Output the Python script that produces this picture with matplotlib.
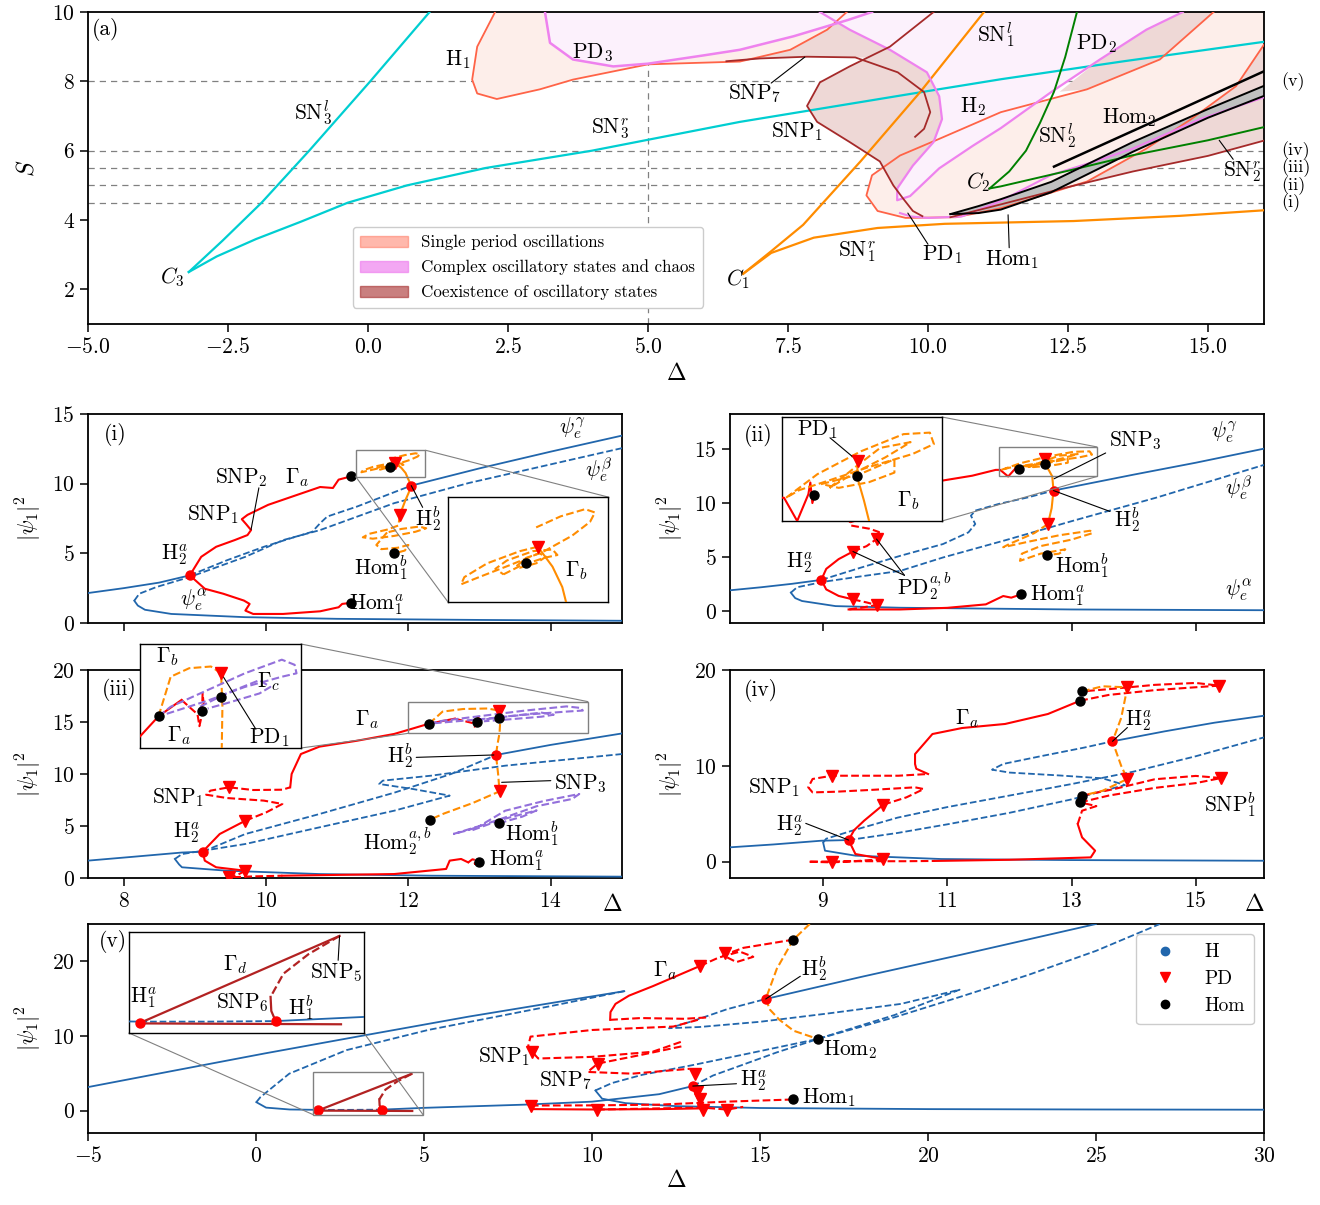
import matplotlib
matplotlib.use('Agg')
import matplotlib.pyplot as plt
from matplotlib.patches import Patch, Rectangle, ConnectionPatch
from matplotlib.lines import Line2D

plt.rcParams.update({
    'font.family': 'serif',
    'font.serif': ['cmr10'],
    'mathtext.fontset': 'cm',
    'axes.formatter.use_mathtext': True,
    'font.size': 15.5,
    'axes.linewidth': 1.3,
    'xtick.major.width': 1.1,
    'ytick.major.width': 1.1,
})

W, H = 1320, 1205
BLUE = '#2166ac'
ORANGE = 'darkorange'
PURPLE = 'mediumpurple'
DRED = 'firebrick'
FS = 15.5

# ---------------- panel (a): two-parameter bifurcation set ----------------
SN3L_X = [-3.2, -2.6, -1.9, -1.05, 0.04, 1.1]
SN3L_Y = [2.5, 3.4, 4.5, 6.0, 8.0, 10.0]
SN3R_X = [-3.2, -2.7, -2.0, -1.2, -0.36, 0.7, 2.1, 4.0, 6.64, 10.0, 11.3, 13.5, 16.0]
SN3R_Y = [2.5, 2.95, 3.45, 3.95, 4.5, 5.0, 5.5, 6.0, 6.83, 7.72, 8.06, 8.58, 9.14]
SN1L_X = [6.7, 7.2, 7.77, 8.8, 9.86, 11.0]
SN1L_Y = [2.45, 3.1, 3.86, 5.7, 7.69, 10.0]
SN1R_X = [6.7, 7.2, 7.96, 9.1, 10.3, 12.6, 14.5, 16.0]
SN1R_Y = [2.45, 3.05, 3.49, 3.77, 3.89, 3.97, 4.12, 4.28]
H1_X = [2.27, 1.95, 1.86, 1.95, 2.3, 3.07, 3.66, 5.0, 6.64, 7.54, 8.2, 8.55]
H1_Y = [10.0, 9.0, 8.05, 7.65, 7.49, 7.77, 8.05, 8.49, 8.57, 8.91, 9.49, 10.0]
PD3_X = [3.16, 3.25, 3.66, 4.38, 5.0, 6.0, 6.64, 7.6, 8.57, 9.0]
PD3_Y = [10.0, 9.11, 8.63, 8.43, 8.51, 8.75, 8.91, 9.3, 9.77, 10.0]
VA_X = [8.07, 8.6, 9.32, 9.98, 10.2, 10.25, 10.1, 9.73, 9.45, 9.45, 9.68, 10.2, 10.8,
        11.3, 12.2, 13.07, 13.9, 14.55]
VA_Y = [10.0, 9.49, 8.91, 8.26, 7.57, 6.91, 6.25, 5.57, 4.91, 4.57, 4.69, 5.49, 6.14,
        6.65, 7.69, 8.63, 9.49, 10.0]
VC_X = [9.5, 9.7, 10.0, 10.6, 11.3, 12.2, 13.0, 13.66, 14.86, 16.0]
VC_Y = [4.2, 4.1, 4.06, 4.1, 4.55, 5.3, 5.7, 6.06, 6.91, 7.54]
H2_X = [15.1, 14.14, 12.84, 11.3, 10.2, 9.5, 9.0, 8.9, 9.1, 9.6, 10.5, 11.3, 12.84,
        13.9, 14.7, 15.5, 16.0]
H2_Y = [10.0, 8.63, 7.77, 7.11, 6.34, 5.86, 5.29, 4.71, 4.26, 4.06, 4.08, 4.34, 5.11,
        6.06, 6.91, 7.86, 9.06]
SNP1_X = [10.1, 9.32, 8.6, 8.07, 7.84, 8.02, 8.6, 9.14, 9.38, 9.55, 9.73, 9.9]
SNP1_Y = [10.0, 9.0, 8.43, 7.97, 7.29, 6.83, 6.25, 5.69, 5.0, 4.63, 4.26, 4.11]
SNP7_X = [6.4, 7.0, 7.84, 8.7, 9.46, 9.93, 10.04, 9.93, 9.77]
SNP7_Y = [8.58, 8.66, 8.71, 8.69, 8.26, 7.69, 7.11, 6.63, 6.4]
DB_X = [10.4, 11.3, 12.5, 13.66, 15.0, 16.0]
DB_Y = [4.08, 4.45, 4.95, 5.4, 5.85, 6.29]
HOM1U_X = [10.4, 10.9, 11.3, 12.2, 13.66, 15.0, 16.0]
HOM1U_Y = [4.17, 4.4, 4.6, 5.1, 6.25, 7.2, 7.87]
HOM1L_X = [10.4, 10.9, 11.3, 12.2, 13.66, 15.0, 16.0]
HOM1L_Y = [4.17, 4.2, 4.3, 4.8, 5.97, 6.95, 7.58]
HOM2_X = [12.25, 14.0, 16.0]
HOM2_Y = [5.54, 6.82, 8.29]
SN2L_X = [11.1, 11.45, 11.75, 12.0, 12.25, 12.45, 12.66]
SN2L_Y = [4.91, 5.4, 6.0, 6.8, 7.7, 8.7, 10.0]
SN2R_X = [11.1, 11.3, 12.5, 13.66, 15.0, 16.0]
SN2R_Y = [4.91, 4.97, 5.42, 5.87, 6.3, 6.68]
S_CUTS = [8.0, 6.0, 5.5, 5.0, 4.5]
S_CUT_NAMES = ['(v)', '(iv)', '(iii)', '(ii)', '(i)']

# ---------------- panel (i) ----------------
I_EQ_LEFT_X = [7.5, 8.0, 8.5, 8.93]
I_EQ_LEFT_Y = [2.15, 2.5, 2.9, 3.42]
I_EQ_LOW_X = [8.15, 8.2, 8.3, 8.67, 9.7, 11.0, 13.0, 15.0]
I_EQ_LOW_Y = [1.6, 1.25, 0.95, 0.65, 0.42, 0.3, 0.22, 0.16]
I_EQ_B_X = [8.15, 8.22, 8.46, 8.93, 9.71, 10.24, 10.76, 11.8, 12.85, 15.0]
I_EQ_B_Y = [1.6, 2.1, 2.58, 3.3, 4.75, 5.95, 6.67, 8.6, 10.05, 12.55]
I_EQ_A_X = [8.93, 9.45, 9.97, 10.34, 10.65, 10.76, 10.86, 11.28, 12.04]
I_EQ_A_Y = [3.42, 4.5, 5.47, 6.07, 6.55, 7.16, 7.64, 8.36, 9.86]
I_EQ_TOP_X = [12.04, 13.0, 14.0, 15.0]
I_EQ_TOP_Y = [9.86, 11.1, 12.3, 13.45]
I_GA_UP_X = [8.93, 9.09, 9.3, 9.56, 9.74, 9.79, 9.72, 9.66, 9.74, 10.03, 10.44, 10.76,
             10.94, 11.02, 11.2]
I_GA_UP_Y = [3.42, 4.75, 5.47, 5.95, 6.31, 6.67, 7.1, 7.45, 7.76, 8.48, 9.2, 9.76,
             9.69, 10.29, 10.53]
I_GA_LO_X = [8.93, 9.14, 9.4, 9.69, 9.77, 9.71, 9.82, 10.24, 10.76, 11.02, 11.07, 11.2]
I_GA_LO_Y = [3.42, 2.46, 2.1, 1.61, 1.37, 0.89, 0.65, 0.65, 0.84, 1.13, 1.37, 1.45]
I_GB_X = [11.81, 11.9, 11.96, 12.0, 12.04, 12.0, 11.96, 11.88]
I_GB_Y = [11.5, 11.14, 10.77, 10.3, 9.86, 9.3, 8.84, 7.76]
I_L1_X = [11.81, 11.7, 11.5, 11.36, 11.34, 11.45, 11.65, 11.85, 12.02, 12.13, 12.16,
          12.1, 11.95, 11.8]
I_L1_Y = [11.5, 11.42, 11.2, 10.95, 10.82, 10.95, 11.18, 11.42, 11.7, 11.95, 12.12,
          12.18, 12.05, 11.85]
I_L2_X = [11.6, 11.7, 11.85, 11.93, 11.9, 11.78, 11.62, 11.55, 11.6]
I_L2_Y = [11.0, 11.15, 11.3, 11.35, 11.45, 11.42, 11.25, 11.1, 11.0]
I_L3_X = [11.68, 11.74, 11.82, 11.86, 11.8, 11.7, 11.68]
I_L3_Y = [11.15, 11.3, 11.38, 11.32, 11.2, 11.12, 11.15]
I_L4_X = [11.88, 11.86, 11.7, 11.45, 11.36, 11.5, 11.8, 12.1, 12.25, 12.15, 11.9, 11.7]
I_L4_Y = [7.76, 7.0, 6.7, 6.4, 6.15, 6.05, 6.25, 6.55, 6.8, 6.92, 6.75, 6.5]
I_L5_X = [11.7, 11.55, 11.62, 11.85, 12.0, 11.95, 11.8]
I_L5_Y = [6.5, 5.6, 5.3, 5.4, 5.6, 5.2, 4.99]
I_H_X, I_H_Y = [8.93, 12.04], [3.42, 9.86]
I_PD_X, I_PD_Y = [11.81, 11.88], [11.5, 7.76]
I_HOM_X, I_HOM_Y = [11.2, 11.2, 11.74, 11.8], [10.53, 1.45, 11.21, 4.99]

# ---------------- panel (ii) ----------------
II_EQ_LEFT_X = [7.5, 8.0, 8.5, 8.97]
II_EQ_LEFT_Y = [1.92, 2.2, 2.52, 2.88]
II_EQ_LOW_X = [8.48, 8.55, 8.66, 9.2, 10.24, 13.0, 16.1]
II_EQ_LOW_Y = [1.7, 1.2, 0.93, 0.46, 0.31, 0.15, 0.08]
II_EQ_B_X = [8.48, 8.58, 9.0, 9.6, 10.24, 10.93, 11.97, 13.0, 14.38, 16.1]
II_EQ_B_Y = [1.7, 2.2, 2.7, 3.2, 3.71, 4.95, 6.6, 8.3, 10.5, 13.5]
II_EQ_A_X = [8.97, 9.6, 10.24, 10.93, 11.34, 11.45, 11.38, 11.45, 11.83, 12.3, 12.71]
II_EQ_A_Y = [2.88, 4.0, 5.1, 6.19, 7.27, 8.04, 8.81, 9.28, 9.9, 10.5, 11.13]
II_EQ_TOP_X = [12.71, 14.0, 15.0, 16.1]
II_EQ_TOP_Y = [11.13, 12.6, 13.7, 15.0]
II_GA_UP_X = [8.97, 9.05, 9.25, 9.48]
II_GA_UP_Y = [2.88, 3.9, 4.8, 5.5]
II_GA_UPD_X = [9.48, 9.7, 9.86, 9.9, 9.75, 9.45, 9.43, 9.55]
II_GA_UPD_Y = [5.5, 6.0, 6.65, 7.3, 7.6, 7.9, 8.2, 8.4]
II_GA_TOP_X = [10.5, 10.93, 11.4, 11.78, 11.85, 11.98, 12.09, 12.11, 12.13, 12.15]
II_GA_TOP_Y = [11.8, 12.06, 12.5, 13.04, 13.04, 12.43, 13.13, 13.44, 12.9, 13.1]
II_GA_LO_X = [8.97, 9.05, 9.25, 9.48]
II_GA_LO_Y = [2.88, 2.0, 1.4, 1.08]
II_GA_LOD_X = [9.48, 9.7, 9.86, 9.6, 9.41]
II_GA_LOD_Y = [1.08, 0.8, 0.56, 0.3, 0.15]
II_GA_BOT_X = [9.41, 10.24, 11.0, 11.62, 11.9, 12.03, 12.19]
II_GA_BOT_Y = [0.15, 0.15, 0.3, 0.62, 1.39, 1.24, 1.55]
II_GB_X = [12.58, 12.57, 12.64, 12.69, 12.71, 12.68, 12.62]
II_GB_Y = [14.01, 13.61, 12.96, 12.43, 11.13, 9.5, 8.04]
II_GB_LEFT_X = [9.55, 9.8, 9.83, 9.85]
II_GB_LEFT_Y = [8.4, 8.6, 9.5, 11.0]
II_U1_X = [11.87, 12.18, 12.61, 13.03, 13.29, 13.33, 13.12, 12.68, 12.3, 12.0, 11.87]
II_U1_Y = [13.04, 13.66, 14.26, 14.71, 14.75, 14.45, 14.19, 13.84, 13.5, 13.24, 13.04]
II_U2_X = [12.22, 12.6, 12.94, 12.94, 12.69, 12.39, 12.22]
II_U2_Y = [13.4, 13.66, 14.05, 13.7, 13.45, 13.3, 13.4]
II_U3_X = [12.3, 12.58, 12.8, 13.1, 12.85, 12.55, 12.3]
II_U3_Y = [13.3, 13.9, 14.35, 14.5, 14.1, 13.7, 13.3]
II_LOW_X = [12.62, 12.4, 12.0, 11.9, 12.3, 12.8, 13.3, 13.34, 13.0, 12.5, 12.2, 12.17,
            12.5, 12.9, 12.8, 12.6]
II_LOW_Y = [8.04, 7.2, 6.2, 5.9, 6.4, 7.0, 7.42, 7.2, 6.6, 6.0, 5.3, 4.64, 5.3, 5.7,
            5.3, 5.17]
II_H_X, II_H_Y = [8.97, 12.71], [2.88, 11.13]
II_PD_X = [9.48, 9.86, 9.48, 9.86, 12.58, 12.62]
II_PD_Y = [5.5, 6.65, 1.08, 0.56, 14.01, 8.04]
II_HOM_X, II_HOM_Y = [12.19, 12.6, 12.15, 12.57], [1.55, 5.17, 13.1, 13.61]

# ---------------- panel (iii) ----------------
III_EQ_LEFT_X = [7.5, 8.15, 8.82, 9.11]
III_EQ_LEFT_Y = [1.67, 2.05, 2.45, 2.53]
III_EQ_LOW_X = [8.72, 8.78, 8.82, 9.45, 10.75, 12.32, 15.0]
III_EQ_LOW_Y = [1.83, 1.3, 1.03, 0.7, 0.38, 0.22, 0.13]
III_EQ_B_X = [8.72, 8.82, 9.71, 10.75, 11.8, 12.58, 12.06, 11.59, 11.64, 12.32, 13.36, 15.0]
III_EQ_B_Y = [1.83, 2.3, 3.27, 4.87, 6.47, 7.92, 8.56, 9.04, 9.36, 9.84, 10.8, 11.92]
III_EQ_A_X = [9.11, 9.71, 10.75, 11.8, 12.6, 13.23]
III_EQ_A_Y = [2.53, 4.23, 6.15, 8.2, 10.0, 11.83]
III_EQ_TOP_X = [13.23, 14.0, 15.0]
III_EQ_TOP_Y = [11.83, 12.8, 13.9]
III_GA_UP_X = [9.11, 9.35, 9.71]
III_GA_UP_Y = [2.53, 4.23, 5.51]
III_GA_UPD_X = [9.71, 10.0, 10.23, 9.97, 9.45, 9.16, 9.22, 9.48, 9.82, 10.23, 10.34]
III_GA_UPD_Y = [5.51, 6.3, 7.12, 7.44, 7.69, 8.01, 8.4, 8.72, 8.46, 8.49, 8.72]
III_GA_TOP_X = [10.34, 10.36, 10.49, 10.75, 11.28, 11.8, 12.0, 12.29, 12.65]
III_GA_TOP_Y = [8.72, 10.0, 11.92, 12.63, 13.2, 13.85, 14.25, 14.84, 15.32]
III_GA_ZIG_X = [12.65, 12.75, 12.9, 12.93, 13.0, 12.98, 12.97]
III_GA_ZIG_Y = [15.32, 15.15, 14.9, 14.55, 15.15, 15.5, 15.0]
III_GA_LO_X = [9.11, 9.14, 9.3, 9.71]
III_GA_LO_Y = [2.53, 1.67, 1.03, 0.7]
III_GA_LOD_X = [9.71, 9.6, 9.48, 9.8, 10.23]
III_GA_LOD_Y = [0.7, 0.3, 0.06, 0.15, 0.22]
III_GA_BOT_X = [10.23, 11.8, 12.53, 12.58, 12.74, 12.84]
III_GA_BOT_Y = [0.22, 0.38, 0.87, 1.67, 1.83, 1.5]
III_GA_BOTD_X = [12.84, 12.9, 13.0, 12.9, 12.99]
III_GA_BOTD_Y = [1.5, 1.8, 1.6, 1.3, 1.51]
III_GB_X = [12.29, 12.48, 12.77, 13.11, 13.27, 13.29, 13.28, 13.25, 13.23, 13.26, 13.28,
            12.9, 12.5, 12.3]
III_GB_Y = [14.84, 16.0, 16.25, 16.3, 16.1, 15.12, 13.94, 12.8, 11.83, 10.0, 8.33,
            7.2, 6.2, 5.6]
III_P1_X = [12.29, 12.48, 13.06, 13.64, 14.22, 14.42, 14.45, 14.22, 13.64, 13.06, 12.48, 12.29]
III_P1_Y = [14.84, 15.12, 15.61, 16.1, 16.5, 16.35, 16.1, 16.0, 15.7, 15.3, 14.95, 14.84]
III_P2_X = [12.94, 13.35, 13.87, 14.04, 13.87, 13.35, 13.06]
III_P2_Y = [15.12, 15.51, 15.9, 15.7, 15.51, 15.22, 15.07]
III_P3_X = [12.63, 13.0, 13.36, 13.9, 14.4, 14.3, 13.8, 13.36, 12.84, 12.63]
III_P3_Y = [4.23, 5.0, 6.47, 7.4, 8.08, 7.6, 6.9, 5.83, 4.6, 4.23]
III_P4_X = [12.9, 13.3, 13.8, 13.6, 13.27]
III_P4_Y = [4.6, 5.6, 6.5, 5.9, 5.26]
III_H_X, III_H_Y = [9.11, 13.23], [2.53, 11.83]
III_PD_X = [9.71, 9.48, 9.71, 9.48, 13.27, 13.28]
III_PD_Y = [5.51, 8.72, 0.7, 0.06, 16.1, 8.33]
III_HOM_X = [12.29, 12.97, 13.27, 12.3, 13.27, 12.99]
III_HOM_Y = [14.84, 15.0, 15.4, 5.6, 5.26, 1.51]

# ---------------- panel (iv) ----------------
IV_EQ_LEFT_X = [7.5, 8.2, 8.97, 9.41]
IV_EQ_LEFT_Y = [1.5, 1.8, 2.19, 2.26]
IV_EQ_LOW_X = [9.0, 9.03, 9.52, 10.9, 12.97, 16.1]
IV_EQ_LOW_Y = [2.0, 1.15, 0.63, 0.28, 0.17, 0.1]
IV_EQ_B_X = [9.0, 9.05, 9.5, 10.2, 11.0, 12.0, 13.0, 14.0, 15.0, 16.1]
IV_EQ_B_Y = [2.0, 2.4, 3.3, 4.6, 5.7, 6.9, 8.1, 9.4, 11.0, 12.97]
IV_EQ_A_X = [9.41, 10.2, 11.0, 12.0, 13.0, 13.86, 13.5, 12.8, 12.0, 11.72, 11.9, 12.5,
             13.2, 13.66]
IV_EQ_A_Y = [2.26, 3.0, 3.9, 5.1, 6.5, 8.0, 8.7, 9.0, 9.3, 9.6, 10.2, 11.0, 11.9, 12.56]
IV_EQ_TOP_X = [13.66, 14.5, 15.3, 16.1]
IV_EQ_TOP_Y = [12.56, 13.6, 14.5, 15.23]
IV_GA_UP_X = [9.41, 9.5, 9.66, 9.97]
IV_GA_UP_Y = [2.26, 3.3, 4.28, 5.95]
IV_GA_UPD_X = [9.97, 10.34, 10.62, 10.48, 9.8, 9.2, 8.83, 8.76, 8.83, 9.14, 10.21, 10.69]
IV_GA_UPD_Y = [5.95, 6.71, 7.58, 7.76, 7.5, 7.3, 7.23, 7.76, 8.63, 8.97, 8.97, 9.15]
IV_GA_TOP_X = [10.69, 10.5, 10.48, 10.48, 10.76, 11.24, 11.93, 12.62, 13.14]
IV_GA_TOP_Y = [9.15, 9.7, 10.19, 11.23, 13.32, 13.95, 14.37, 15.41, 16.8]
IV_R1_X = [13.14, 13.6, 14.34, 15.0, 15.38, 15.0, 14.34, 13.6, 13.17]
IV_R1_Y = [16.8, 17.4, 17.9, 18.2, 18.37, 18.65, 18.45, 18.0, 17.77]
IV_GA_LO_X = [9.41, 9.52, 9.97]
IV_GA_LO_Y = [2.26, 0.8, 0.28]
IV_GA_LOD_X = [9.97, 9.5, 9.14, 8.76, 9.5, 10.3, 10.8]
IV_GA_LOD_Y = [0.28, 0.05, -0.07, 0.0, 0.05, 0.05, 0.08]
IV_GA_BOT_X = [10.8, 12.0, 13.31, 13.38, 13.17, 13.1]
IV_GA_BOT_Y = [0.08, 0.2, 0.45, 1.15, 2.54, 3.93]
IV_GA_BOTD_X = [13.1, 13.17, 13.4, 13.14]
IV_GA_BOTD_Y = [3.93, 5.32, 5.8, 6.19]
IV_R2_X = [13.14, 13.6, 14.34, 15.0, 15.41, 15.0, 14.34, 13.7, 13.17]
IV_R2_Y = [6.19, 6.9, 7.7, 8.2, 8.73, 8.95, 8.6, 7.6, 6.89]
IV_GB_X = [13.17, 13.5, 13.9, 13.8, 13.66, 13.8, 13.9, 13.5, 13.17]
IV_GB_Y = [17.77, 18.3, 18.19, 15.0, 12.56, 10.0, 8.63, 7.4, 6.89]
IV_H_X, IV_H_Y = [9.41, 13.66], [2.26, 12.56]
IV_PD_X = [9.97, 9.14, 9.97, 9.14, 13.9, 15.38, 13.9, 15.41]
IV_PD_Y = [5.95, 8.97, 0.28, -0.07, 18.19, 18.37, 8.63, 8.73]
IV_HOM_X, IV_HOM_Y = [13.14, 13.17, 13.14, 13.17], [16.8, 17.77, 6.19, 6.89]

# ---------------- panel (v) ----------------
V_S1_X = [-5.0, -2.5, 0.26, 3.0, 6.34, 9.0, 10.96]
V_S1_Y = [3.15, 5.3, 7.66, 9.9, 12.6, 14.57, 16.0]
V_D1_X = [10.96, 8.77, 5.12, 2.69, 0.99, 0.13, 0.01]
V_D1_Y = [16.0, 14.0, 10.8, 8.1, 4.95, 1.8, 1.13]
V_S2A_X = [0.01, 0.3, 1.0, 1.86]
V_S2A_Y = [1.13, 0.4, 0.15, 0.1]
V_S2D_X = [1.86, 2.8, 3.74]
V_S2D_Y = [0.1, 0.1, 0.13]
V_S2B_X = [3.74, 5.0, 8.0, 10.0, 12.0, 13.0]
V_S2B_Y = [0.13, 0.37, 0.8, 1.2, 2.2, 3.29]
V_S3_X = [10.1, 10.3, 11.0, 12.5, 15.0, 20.0, 25.0, 30.0]
V_S3_Y = [2.7, 1.6, 1.0, 0.6, 0.35, 0.2, 0.15, 0.12]
V_D2_X = [10.1, 10.6, 11.5, 13.0, 14.5, 16.72, 19.0, 21.0, 23.0, 25.0, 26.9]
V_D2_Y = [2.7, 3.7, 4.8, 6.1, 7.5, 9.6, 12.5, 15.3, 18.2, 21.4, 25.0]
V_D3_X = [13.0, 13.6, 14.4, 15.5, 17.0, 19.0, 20.94, 19.2, 17.0, 15.0, 13.2, 12.29,
          13.0, 14.03, 15.17]
V_D3_Y = [3.29, 4.7, 6.0, 7.8, 10.0, 12.8, 16.2, 14.3, 13.0, 11.9, 11.2, 11.04,
          12.0, 13.6, 14.95]
V_TOP_X = [15.17, 18.0, 21.0, 25.0]
V_TOP_Y = [14.95, 17.9, 20.9, 25.0]
V_GA_X = [10.54, 10.55, 10.7, 11.1, 11.81, 12.5, 13.21]
V_GA_Y = [12.16, 13.2, 14.3, 15.4, 16.67, 18.0, 19.37]
V_GA_D_X = [13.21, 13.77, 14.4, 14.8, 14.3, 13.9, 14.5, 15.99]
V_GA_D_Y = [19.37, 20.5, 21.3, 20.6, 19.9, 20.8, 21.8, 22.9]
V_GA_D2_X = [10.54, 11.45, 12.74, 13.5]
V_GA_D2_Y = [12.16, 12.4, 12.3, 12.5]
V_SNP1_X = [13.15, 12.42, 10.0, 8.17, 8.1, 8.22, 8.4, 10.0, 11.8, 12.66]
V_SNP1_Y = [12.16, 11.26, 10.8, 9.91, 8.6, 7.88, 6.98, 7.2, 7.88, 9.23]
V_SNP7_X = [12.66, 11.5, 10.17, 9.87, 11.2, 12.9]
V_SNP7_Y = [8.6, 7.5, 6.3, 5.18, 4.95, 5.6]
V_H2A_X = [13.0, 13.1, 13.2, 13.3, 13.3]
V_H2A_Y = [3.29, 2.4, 1.6, 0.8, 0.14]
V_LO1_X = [8.2, 10.0, 12.0, 13.3]
V_LO1_Y = [0.2, 0.15, 0.2, 0.3]
V_LO2_X = [8.18, 10.0, 12.0, 14.0, 15.99]
V_LO2_Y = [0.68, 0.7, 0.8, 1.2, 1.49]
V_LO3_X = [10.15, 12.0, 13.3, 14.02, 14.5]
V_LO3_Y = [0.14, 0.3, 0.4, 0.14, 0.5]
V_GB_X = [16.48, 15.99, 15.5, 15.17, 15.3, 15.58, 16.0, 16.72]
V_GB_Y = [25.0, 22.9, 19.0, 14.95, 13.5, 12.16, 10.7, 9.6]
V_GD_X = [1.86, 4.63]
V_GD_Y = [0.04, 4.92]
V_GD_D_X = [4.63, 4.2, 3.85, 3.67]
V_GD_D_Y = [4.92, 3.9, 2.8, 1.49]
V_GD_S_X = [3.67, 3.68, 3.74]
V_GD_S_Y = [1.49, 0.7, 0.13]
V_GD_FLAT_X = [1.86, 4.65]
V_GD_FLAT_Y = [0.0, -0.05]
V_H_X, V_H_Y = [1.86, 3.74, 13.0, 15.17], [0.04, 0.13, 3.29, 14.95]
V_PD_X = [13.21, 13.97, 8.22, 10.17, 8.18, 10.15, 13.3, 14.02, 13.13, 13.2, 13.06]
V_PD_Y = [19.37, 21.17, 7.88, 6.3, 0.68, 0.14, 0.14, 0.14, 2.43, 1.6, 4.95]
V_HOM_X, V_HOM_Y = [15.99, 16.72, 15.99], [22.9, 9.6, 1.49]


def axes_px(fig, left, top, right, bottom, **kw):
    return fig.add_axes([left / W, 1 - bottom / H, (right - left) / W, (bottom - top) / H], **kw)


def ln(ax, x, y, c, ls='-', lw=1.5, z=3):
    ax.plot(x, y, color=c, ls=ls, lw=lw, zorder=z)


def marks(ax, hx, hy, px, py, bx, by):
    ax.plot(hx, hy, 'o', color='red', ms=6.5, zorder=7, ls='')
    ax.plot(px, py, 'v', color='red', ms=8, zorder=7, ls='')
    ax.plot(bx, by, 'o', color='k', ms=6.5, zorder=7, ls='')


def tag(ax, s, x, y, ha='center', va='center', fs=FS, **kw):
    ax.text(x, y, s, ha=ha, va=va, fontsize=fs, zorder=9, **kw)


def pointer(ax, x0, y0, x1, y1, coords='data'):
    ax.annotate('', xy=(x1, y1), xytext=(x0, y0), xycoords='data', textcoords=coords,
                arrowprops=dict(arrowstyle='-', lw=0.8, color='k', shrinkA=0, shrinkB=0),
                zorder=9)


def make_inset(fig, ax, box, xl, yl, corners):
    ins = axes_px(fig, *box)
    ins.set_zorder(ax.get_zorder() + 1)
    ins.set_xlim(*xl)
    ins.set_ylim(*yl)
    ins.set_xticks([])
    ins.set_yticks([])
    for s in ins.spines.values():
        s.set_linewidth(1.0)
    ax.add_patch(Rectangle((xl[0], yl[0]), xl[1] - xl[0], yl[1] - yl[0], fill=False,
                           ec='gray', lw=1.0, zorder=8))
    for (px, py), (ux, uy) in corners:
        fig.add_artist(ConnectionPatch(xyA=(px, py), coordsA=ax.transData,
                                       xyB=(ux, uy), coordsB=ins.transAxes,
                                       color='gray', lw=0.8))
    return ins


def style(ax):
    ax.tick_params(direction='out', length=6, labelsize=FS)


fig = plt.figure(figsize=(W / 100, H / 100), dpi=100)

# ====================== (a) ======================
ax = axes_px(fig, 88, 12, 1264, 324)
style(ax)
ax.set_xlim(-5, 16)
ax.set_ylim(1, 10)
ax.set_xticks([-5, -2.5, 0, 2.5, 5, 7.5, 10, 12.5, 15])
ax.set_xticklabels(['$-5.0$', '$-2.5$', '$0.0$', '$2.5$', '$5.0$', '$7.5$', '$10.0$', '$12.5$', '$15.0$'])
ax.set_yticks([2, 4, 6, 8, 10])
ax.set_xlabel(r'$\Delta$', fontsize=17, labelpad=4)
ax.set_ylabel(r'$S$', fontsize=17, labelpad=10)

SALMON = dict(color='#fdeeea', lw=0, zorder=1)
PINK = dict(color='#fcf1fc', lw=0, zorder=1.1)
BROWNF = dict(color='#eed8d6', lw=0, zorder=1.2)

ax.fill(H1_X, H1_Y, **SALMON)
ax.fill(H2_X + [16.0], H2_Y + [10.0], **SALMON)
ax.fill(PD3_X, PD3_Y, **PINK)
ax.fill(VA_X, VA_Y, **PINK)
b1x = [8.35] + VA_X[1:9] + SNP1_X[8:1:-1] + [8.95] + SNP7_X[3::-1] + H1_X[8:11]
b1y = [9.72] + VA_Y[1:9] + SNP1_Y[8:1:-1] + [8.68] + SNP7_Y[3::-1] + H1_Y[8:11]
ax.fill(b1x, b1y, **BROWNF)
ax.fill([12.35] + VA_X[15:] + H2_X[0:3], [7.7] + VA_Y[15:] + H2_Y[0:3], **BROWNF)
ax.fill(H2_X[10:] + DB_X[::-1], H2_Y[10:] + DB_Y[::-1], **BROWNF)
ax.fill(HOM1U_X + HOM1L_X[::-1], HOM1U_Y + HOM1L_Y[::-1], color='#c0c0c0', lw=0, zorder=1.3)

for s in S_CUTS:
    ax.axhline(s, color='gray', ls=(0, (5, 4)), lw=0.9, zorder=0.5)
ax.axvline(5, color='gray', ls=(0, (5, 4)), lw=0.9, zorder=0.5)
for s, name in zip(S_CUTS, S_CUT_NAMES):
    ax.text(16.3, s, name, ha='left', va='center', fontsize=13, clip_on=False)

ln(ax, SN3L_X, SN3L_Y, 'darkturquoise', lw=1.6)
ln(ax, SN3R_X, SN3R_Y, 'darkturquoise', lw=1.6)
ln(ax, SN1L_X, SN1L_Y, ORANGE, lw=1.6)
ln(ax, SN1R_X, SN1R_Y, ORANGE, lw=1.6)
ln(ax, H1_X, H1_Y, 'tomato', lw=1.3)
ln(ax, H2_X, H2_Y, 'tomato', lw=1.3)
ln(ax, PD3_X, PD3_Y, 'violet', lw=1.8)
ln(ax, VA_X, VA_Y, 'violet', lw=1.6)
ln(ax, VC_X, VC_Y, 'violet', lw=1.5)
ln(ax, SNP1_X, SNP1_Y, 'brown', lw=1.3)
ln(ax, SNP7_X, SNP7_Y, 'brown', lw=1.3)
ln(ax, DB_X, DB_Y, 'brown', lw=1.3)
ln(ax, SN2L_X, SN2L_Y, 'green', lw=1.4)
ln(ax, SN2R_X, SN2R_Y, 'green', lw=1.4)
ln(ax, HOM1U_X, HOM1U_Y, 'k', lw=1.4)
ln(ax, HOM1L_X, HOM1L_Y, 'k', lw=1.4)
ln(ax, HOM2_X, HOM2_Y, 'k', lw=1.8)

tag(ax, '(a)', -4.93, 9.5, ha='left')
for s, x, y in [('H$_1$', 1.6, 8.63), ('PD$_3$', 4.0, 8.83), ('SN$_3^l$', -0.98, 7.1),
                ('SN$_3^r$', 4.32, 6.63), ('SNP$_7$', 6.9, 7.63), ('SNP$_1$', 7.66, 6.54),
                ('SN$_1^l$', 11.2, 9.34), ('PD$_2$', 13.0, 9.1), ('H$_2$', 10.8, 7.26),
                ('SN$_2^l$', 12.3, 6.43), ('Hom$_2$', 13.6, 6.95), ('$C_2$', 10.9, 5.1),
                ('SN$_2^r$', 15.6, 5.4), ('SN$_1^r$', 8.73, 3.1), ('PD$_1$', 10.25, 3.0),
                ('Hom$_1$', 11.5, 2.86), ('$C_1$', 6.6, 2.29), ('$C_3$', -3.5, 2.34)]:
    tag(ax, s, x, y)
pointer(ax, 7.2, 7.95, 7.8, 8.7)
pointer(ax, 15.45, 5.75, 15.2, 6.3)
pointer(ax, 10.0, 3.3, 9.64, 4.2)
pointer(ax, 11.45, 3.2, 11.43, 4.15)

leg = ax.legend(handles=[Patch(color='tomato', alpha=0.45, label='Single period oscillations'),
                         Patch(color='violet', alpha=0.7, label='Complex oscillatory states and chaos'),
                         Patch(color='brown', alpha=0.6, label='Coexistence of oscillatory states')],
                loc='lower left', bbox_to_anchor=(0.218, 0.025), fontsize=12.2,
                handlelength=2.8, handleheight=0.6, framealpha=1, edgecolor='#cccccc',
                borderpad=0.45, labelspacing=0.55)
leg.set_zorder(10)


# ====================== (i) ======================
def draw_i(a):
    ln(a, I_EQ_LEFT_X, I_EQ_LEFT_Y, BLUE, lw=1.3)
    ln(a, I_EQ_LOW_X, I_EQ_LOW_Y, BLUE, lw=1.3)
    ln(a, I_EQ_B_X, I_EQ_B_Y, BLUE, '--', lw=1.3)
    ln(a, I_EQ_A_X, I_EQ_A_Y, BLUE, '--', lw=1.3)
    ln(a, I_EQ_TOP_X, I_EQ_TOP_Y, BLUE, lw=1.3)
    ln(a, I_GA_UP_X, I_GA_UP_Y, 'red')
    ln(a, I_GA_LO_X, I_GA_LO_Y, 'red')
    ln(a, I_GB_X, I_GB_Y, ORANGE)
    for xs, ys in [(I_L1_X, I_L1_Y), (I_L2_X, I_L2_Y), (I_L3_X, I_L3_Y),
                   (I_L4_X, I_L4_Y), (I_L5_X, I_L5_Y)]:
        ln(a, xs, ys, ORANGE, '--')
    marks(a, I_H_X, I_H_Y, I_PD_X, I_PD_Y, I_HOM_X, I_HOM_Y)


ax1 = axes_px(fig, 88, 414, 622, 623)
style(ax1)
draw_i(ax1)
ax1.set_xlim(7.5, 15)
ax1.set_ylim(0, 15)
ax1.set_xticks([8, 10, 12, 14])
ax1.set_xticklabels([])
ax1.set_yticks([0, 5, 10, 15])
ax1.set_ylabel(r'$|\psi_1|^2$', fontsize=16, labelpad=6)
tag(ax1, '(i)', 7.72, 13.5, ha='left')
tag(ax1, r'$\psi_e^\gamma$', 14.3, 14.0)
tag(ax1, r'$\psi_e^\beta$', 14.68, 11.0)
tag(ax1, r'$\psi_e^\alpha$', 8.99, 1.65)
tag(ax1, 'H$_2^a$', 8.71, 4.9)
tag(ax1, 'SNP$_1$', 9.26, 7.75)
tag(ax1, 'SNP$_2$', 9.65, 10.4)
pointer(ax1, 9.9, 9.7, 9.79, 6.7)
tag(ax1, r'$\Gamma_a$', 10.44, 10.4)
tag(ax1, 'H$_2^b$', 12.28, 7.5)
pointer(ax1, 12.2, 8.3, 12.04, 9.86)
tag(ax1, 'Hom$_1^b$', 11.62, 4.0)
tag(ax1, 'Hom$_1^a$', 11.55, 1.3)
ins1 = make_inset(fig, ax1, (448, 497, 608, 602), (11.26, 12.24), (10.5, 12.4),
                  [((12.24, 12.4), (1, 1)), ((11.26, 10.5), (0, 0))])
draw_i(ins1)
ins1.text(0.8, 0.3, r'$\Gamma_b$', transform=ins1.transAxes, ha='center', va='center', fontsize=FS)


# ====================== (ii) ======================
def draw_ii(a):
    ln(a, II_EQ_LEFT_X, II_EQ_LEFT_Y, BLUE, lw=1.3)
    ln(a, II_EQ_LOW_X, II_EQ_LOW_Y, BLUE, lw=1.3)
    ln(a, II_EQ_B_X, II_EQ_B_Y, BLUE, '--', lw=1.3)
    ln(a, II_EQ_A_X, II_EQ_A_Y, BLUE, '--', lw=1.3)
    ln(a, II_EQ_TOP_X, II_EQ_TOP_Y, BLUE, lw=1.3)
    ln(a, II_GA_UP_X, II_GA_UP_Y, 'red')
    ln(a, II_GA_UPD_X, II_GA_UPD_Y, 'red', '--')
    ln(a, II_GA_TOP_X, II_GA_TOP_Y, 'red')
    ln(a, II_GA_LO_X, II_GA_LO_Y, 'red')
    ln(a, II_GA_LOD_X, II_GA_LOD_Y, 'red', '--')
    ln(a, II_GA_BOT_X, II_GA_BOT_Y, 'red')
    ln(a, II_GB_X, II_GB_Y, ORANGE)
    ln(a, II_GB_LEFT_X, II_GB_LEFT_Y, ORANGE)
    for xs, ys in [(II_U1_X, II_U1_Y), (II_U2_X, II_U2_Y), (II_U3_X, II_U3_Y),
                   (II_LOW_X, II_LOW_Y)]:
        ln(a, xs, ys, ORANGE, '--')
    marks(a, II_H_X, II_H_Y, II_PD_X, II_PD_Y, II_HOM_X, II_HOM_Y)


ax2 = axes_px(fig, 730, 414, 1264, 623)
style(ax2)
draw_ii(ax2)
ax2.set_xlim(7.5, 16.1)
ax2.set_ylim(-1.1, 18.2)
ax2.set_xticks([9, 11, 13, 15])
ax2.set_xticklabels([])
ax2.set_yticks([0, 5, 10, 15])
ax2.set_ylabel(r'$|\psi_1|^2$', fontsize=16, labelpad=6)
tag(ax2, r'$\psi_e^\gamma$', 15.47, 16.5)
tag(ax2, r'$\psi_e^\beta$', 15.7, 11.4)
tag(ax2, r'$\psi_e^\alpha$', 15.7, 1.9)
tag(ax2, 'H$_2^a$', 8.61, 4.5)
tag(ax2, 'PD$_2^{a,b}$', 10.63, 2.3)
pointer(ax2, 10.31, 3.3, 9.48, 5.5)
pointer(ax2, 10.31, 3.3, 9.86, 6.65)
tag(ax2, 'Hom$_1^b$', 12.74, 4.2, ha='left')
tag(ax2, 'Hom$_1^a$', 12.33, 1.4, ha='left')
tag(ax2, 'SNP$_3$', 14.02, 15.7)
pointer(ax2, 13.55, 14.6, 12.72, 12.22)
tag(ax2, 'H$_2^b$', 13.9, 8.5)
pointer(ax2, 13.62, 9.2, 12.71, 11.13)
ins2 = make_inset(fig, ax2, (782, 417, 942, 521), (11.83, 13.41), (12.43, 15.16),
                  [((13.41, 15.16), (1, 1)), ((13.41, 12.43), (1, 0))])
draw_ii(ins2)
tag(ax2, '(ii)', 7.72, 16.2, ha='left')
ins2.text(0.22, 0.88, 'PD$_1$', transform=ins2.transAxes, ha='center', va='center', fontsize=FS)
ins2.annotate('', xy=(12.58, 14.0), xytext=(0.3, 0.8), textcoords=ins2.transAxes,
              arrowprops=dict(arrowstyle='-', lw=0.8, color='k', shrinkA=0, shrinkB=0))
ins2.text(0.79, 0.2, r'$\Gamma_b$', transform=ins2.transAxes, ha='center', va='center', fontsize=FS)


# ====================== (iii) ======================
def draw_iii(a):
    ln(a, III_EQ_LEFT_X, III_EQ_LEFT_Y, BLUE, lw=1.3)
    ln(a, III_EQ_LOW_X, III_EQ_LOW_Y, BLUE, lw=1.3)
    ln(a, III_EQ_B_X, III_EQ_B_Y, BLUE, '--', lw=1.3)
    ln(a, III_EQ_A_X, III_EQ_A_Y, BLUE, '--', lw=1.3)
    ln(a, III_EQ_TOP_X, III_EQ_TOP_Y, BLUE, lw=1.3)
    ln(a, III_GA_UP_X, III_GA_UP_Y, 'red')
    ln(a, III_GA_UPD_X, III_GA_UPD_Y, 'red', '--')
    ln(a, III_GA_TOP_X, III_GA_TOP_Y, 'red')
    ln(a, III_GA_ZIG_X, III_GA_ZIG_Y, 'red', '--')
    ln(a, III_GA_LO_X, III_GA_LO_Y, 'red')
    ln(a, III_GA_LOD_X, III_GA_LOD_Y, 'red', '--')
    ln(a, III_GA_BOT_X, III_GA_BOT_Y, 'red')
    ln(a, III_GA_BOTD_X, III_GA_BOTD_Y, 'red', '--')
    ln(a, III_GB_X, III_GB_Y, ORANGE, '--')
    for xs, ys in [(III_P1_X, III_P1_Y), (III_P2_X, III_P2_Y), (III_P3_X, III_P3_Y),
                   (III_P4_X, III_P4_Y)]:
        ln(a, xs, ys, PURPLE, '--')
    marks(a, III_H_X, III_H_Y, III_PD_X, III_PD_Y, III_HOM_X, III_HOM_Y)


ax3 = axes_px(fig, 88, 670, 622, 878)
style(ax3)
draw_iii(ax3)
ax3.set_xlim(7.5, 15)
ax3.set_ylim(0, 20)
ax3.set_xticks([8, 10, 12, 14])
ax3.set_yticks([0, 5, 10, 15, 20])
ax3.set_ylabel(r'$|\psi_1|^2$', fontsize=16, labelpad=6)
ax3.text(0.981, -0.13, r'$\Delta$', transform=ax3.transAxes, ha='center', va='center', fontsize=17)
tag(ax3, '(iii)', 7.7, 18.1, ha='left')
tag(ax3, r'$\Gamma_a$', 11.42, 15.2)
tag(ax3, 'H$_2^b$', 11.88, 11.76)
pointer(ax3, 12.11, 11.6, 13.2, 11.83)
tag(ax3, 'SNP$_3$', 14.41, 9.04)
pointer(ax3, 14.0, 9.36, 13.31, 9.2)
tag(ax3, 'SNP$_1$', 8.77, 7.76)
tag(ax3, 'H$_2^a$', 8.88, 4.39)
tag(ax3, 'Hom$_2^{a,b}$', 11.85, 3.6)
tag(ax3, 'Hom$_1^b$', 13.73, 4.23)
tag(ax3, 'Hom$_1^a$', 13.52, 1.67)
ins3 = make_inset(fig, ax3, (140, 644, 301, 748), (12.0, 14.52), (13.91, 16.96),
                  [((14.52, 16.96), (1, 1)), ((12.0, 13.91), (1, 0))])
draw_iii(ins3)
for s, u, v in [(r'$\Gamma_b$', 0.17, 0.88), (r'$\Gamma_c$', 0.8, 0.64),
                (r'$\Gamma_a$', 0.24, 0.12), ('PD$_1$', 0.8, 0.1)]:
    ins3.text(u, v, s, transform=ins3.transAxes, ha='center', va='center', fontsize=FS)
ins3.annotate('', xy=(13.27, 16.1), xytext=(0.72, 0.18), textcoords=ins3.transAxes,
              arrowprops=dict(arrowstyle='-', lw=0.8, color='k', shrinkA=0, shrinkB=0))


# ====================== (iv) ======================
ax4 = axes_px(fig, 730, 670, 1264, 878)
style(ax4)
ln(ax4, IV_EQ_LEFT_X, IV_EQ_LEFT_Y, BLUE, lw=1.3)
ln(ax4, IV_EQ_LOW_X, IV_EQ_LOW_Y, BLUE, lw=1.3)
ln(ax4, IV_EQ_B_X, IV_EQ_B_Y, BLUE, '--', lw=1.3)
ln(ax4, IV_EQ_A_X, IV_EQ_A_Y, BLUE, '--', lw=1.3)
ln(ax4, IV_EQ_TOP_X, IV_EQ_TOP_Y, BLUE, lw=1.3)
ln(ax4, IV_GA_UP_X, IV_GA_UP_Y, 'red')
ln(ax4, IV_GA_UPD_X, IV_GA_UPD_Y, 'red', '--')
ln(ax4, IV_GA_TOP_X, IV_GA_TOP_Y, 'red')
ln(ax4, IV_R1_X, IV_R1_Y, 'red', '--')
ln(ax4, IV_GA_LO_X, IV_GA_LO_Y, 'red')
ln(ax4, IV_GA_LOD_X, IV_GA_LOD_Y, 'red', '--')
ln(ax4, IV_GA_BOT_X, IV_GA_BOT_Y, 'red')
ln(ax4, IV_GA_BOTD_X, IV_GA_BOTD_Y, 'red', '--')
ln(ax4, IV_R2_X, IV_R2_Y, 'red', '--')
ln(ax4, IV_GB_X, IV_GB_Y, ORANGE, '--')
marks(ax4, IV_H_X, IV_H_Y, IV_PD_X, IV_PD_Y, IV_HOM_X, IV_HOM_Y)
ax4.set_xlim(7.5, 16.1)
ax4.set_ylim(-1.7, 20)
ax4.set_xticks([9, 11, 13, 15])
ax4.set_yticks([0, 10, 20])
ax4.set_ylabel(r'$|\psi_1|^2$', fontsize=16, labelpad=6)
ax4.text(0.981, -0.13, r'$\Delta$', transform=ax4.transAxes, ha='center', va='center', fontsize=17)
tag(ax4, '(iv)', 7.72, 17.9, ha='left')
tag(ax4, r'$\Gamma_a$', 11.31, 14.9)
tag(ax4, 'H$_2^a$', 14.07, 14.7)
pointer(ax4, 13.9, 14.0, 13.66, 12.56)
tag(ax4, 'SNP$_1$', 8.21, 7.76)
tag(ax4, 'H$_2^a$', 8.45, 3.76)
pointer(ax4, 8.72, 4.0, 9.41, 2.26)
tag(ax4, 'SNP$_1^b$', 15.55, 6.0)


# ====================== (v) ======================
def draw_v(a):
    ln(a, V_S1_X, V_S1_Y, BLUE, lw=1.3)
    ln(a, V_D1_X, V_D1_Y, BLUE, '--', lw=1.3)
    ln(a, V_S2A_X, V_S2A_Y, BLUE, lw=1.3)
    ln(a, V_S2D_X, V_S2D_Y, BLUE, '--', lw=1.3)
    ln(a, V_S2B_X, V_S2B_Y, BLUE, lw=1.3)
    ln(a, V_S3_X, V_S3_Y, BLUE, lw=1.3)
    ln(a, V_D2_X, V_D2_Y, BLUE, '--', lw=1.3)
    ln(a, V_D3_X, V_D3_Y, BLUE, '--', lw=1.3)
    ln(a, V_TOP_X, V_TOP_Y, BLUE, lw=1.3)
    ln(a, V_GA_X, V_GA_Y, 'red')
    ln(a, V_GA_D_X, V_GA_D_Y, 'red', '--')
    ln(a, V_GA_D2_X, V_GA_D2_Y, 'red', '--')
    ln(a, V_SNP1_X, V_SNP1_Y, 'red', '--')
    ln(a, V_SNP7_X, V_SNP7_Y, 'red', '--')
    ln(a, V_H2A_X, V_H2A_Y, 'red')
    ln(a, V_LO1_X, V_LO1_Y, 'red')
    ln(a, V_LO2_X, V_LO2_Y, 'red', '--')
    ln(a, V_LO3_X, V_LO3_Y, 'red', '--')
    ln(a, V_GB_X, V_GB_Y, ORANGE, '--')
    ln(a, V_GD_X, V_GD_Y, DRED, lw=1.6)
    ln(a, V_GD_D_X, V_GD_D_Y, DRED, '--', lw=1.6)
    ln(a, V_GD_S_X, V_GD_S_Y, DRED, lw=1.6)
    ln(a, V_GD_FLAT_X, V_GD_FLAT_Y, DRED, lw=1.6)
    marks(a, V_H_X, V_H_Y, V_PD_X, V_PD_Y, V_HOM_X, V_HOM_Y)


ax5 = axes_px(fig, 88, 924, 1264, 1133)
style(ax5)
draw_v(ax5)
ax5.set_xlim(-5, 30)
ax5.set_ylim(-3, 25)
ax5.set_xticks([-5, 0, 5, 10, 15, 20, 25, 30])
ax5.set_yticks([0, 10, 20])
ax5.set_xlabel(r'$\Delta$', fontsize=17, labelpad=3)
ax5.set_ylabel(r'$|\psi_1|^2$', fontsize=16, labelpad=6)
tag(ax5, '(v)', -4.26, 22.7)
tag(ax5, r'$\Gamma_a$', 12.18, 18.7)
tag(ax5, 'H$_2^b$', 16.6, 19.1)
pointer(ax5, 16.2, 18.0, 15.17, 14.95)
tag(ax5, 'Hom$_2$', 17.7, 8.1)
tag(ax5, 'SNP$_1$', 7.37, 7.2)
tag(ax5, 'SNP$_7$', 9.2, 4.05)
tag(ax5, 'H$_2^a$', 14.8, 4.05)
pointer(ax5, 14.3, 3.6, 13.0, 3.29)
tag(ax5, 'Hom$_1$', 16.25, 1.8, ha='left')
ax5.legend(handles=[Line2D([], [], marker='o', color=BLUE, ls='', ms=6, label='H'),
                    Line2D([], [], marker='v', color='red', ls='', ms=7.5, label='PD'),
                    Line2D([], [], marker='o', color='k', ls='', ms=6, label='Hom')],
           loc='upper right', fontsize=14, framealpha=1, edgecolor='#cccccc',
           borderpad=0.5, labelspacing=0.45, handletextpad=1.0)
ins5 = make_inset(fig, ax5, (129, 932, 364, 1033), (1.7, 4.97), (-0.54, 5.14),
                  [((1.7, -0.54), (0, 0)), ((4.97, -0.54), (1, 0))])
draw_v(ins5)
for s, u, v in [(r'$\Gamma_d$', 0.45, 0.68), ('SNP$_5$', 0.88, 0.6), ('SNP$_6$', 0.48, 0.3),
                ('H$_1^a$', 0.06, 0.35), ('H$_1^b$', 0.73, 0.25)]:
    ins5.text(u, v, s, transform=ins5.transAxes, ha='center', va='center', fontsize=FS)
ins5.annotate('', xy=(4.63, 4.92), xytext=(0.89, 0.72), textcoords=ins5.transAxes,
              arrowprops=dict(arrowstyle='-', lw=0.8, color='k', shrinkA=0, shrinkB=0))

fig.savefig('out.png', dpi=100)
